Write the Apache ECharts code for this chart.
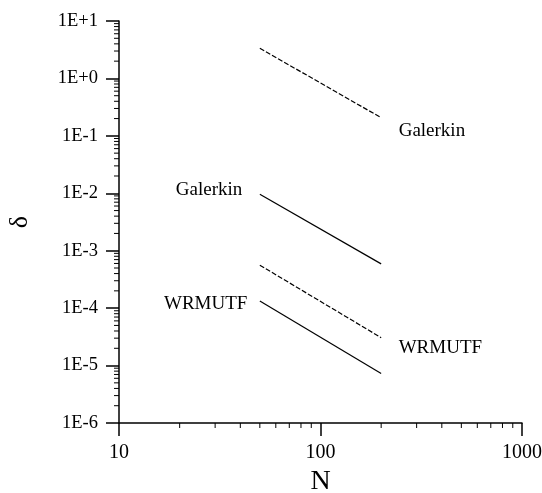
<!DOCTYPE html>
<html>
<head>
<meta charset="utf-8">
<script src="https://cdn.jsdelivr.net/npm/echarts@6/dist/echarts.min.js"></script>
<style>html,body{margin:0;padding:0;background:#fff}#c{width:542px;height:493px}</style>
</head>
<body>
<div id="c"></div>
<script>
// ---- data ----
const N = [50, 200];
const galerkinDashed = [3.35, 0.207];
const galerkinSolid = [0.0096, 0.00059];
const wrmutfDashed = [0.00056, 0.0000306];
const wrmutfSolid = [0.000133, 0.0000073];
const labelTexts = ['Galerkin', 'Galerkin', 'WRMUTF', 'WRMUTF'];
const xTickValues = [10, 100, 1000];
const yTickValues = [1e-6, 1e-5, 1e-4, 1e-3, 1e-2, 1e-1, 1, 10];
const xMinorTicks = [20,30,40,50,60,70,80,90,200,300,400,500,600,700,800,900];
const yMinorTicks = [];
for (let d = -6; d < 1; d++) for (let k = 2; k <= 9; k++) yMinorTicks.push(k * Math.pow(10, d));

const FONT = 'Liberation Serif';
const chart = echarts.init(document.getElementById('c'), null, {renderer: 'canvas'});

function pts(ys) { return N.map((n, i) => [n, ys[i]]); }
function withLabel(data, idx, text, pos, dist, offset) {
  data[idx] = {value: data[idx], label: {show: true, formatter: text, position: pos, distance: dist, offset: offset,
    fontFamily: FONT, fontSize: 19, color: '#000'}};
  return data;
}
const lineStyleSolid = {color: '#000', width: 1.2, type: 'solid'};
const lineStyleDashed = {color: '#000', width: 1.2, type: [5, 2]};

function lineSeries(data, ls) {
  return {type: 'line', data: data, showSymbol: true, symbol: 'circle', symbolSize: 1,
    itemStyle: {color: 'rgba(0,0,0,0)', borderWidth: 0}, lineStyle: ls, silent: true, label: {show: false}};
}

function minorTickSeries(data, dir) {
  return {
    type: 'custom', coordinateSystem: 'cartesian2d', silent: true, clip: false, z: 5,
    data: data,
    renderItem: function (params, api) {
      const p = api.coord([api.value(0), api.value(1)]);
      const shape = dir === 'x' ? {x1: p[0], y1: p[1], x2: p[0], y2: p[1] + 5}
                                : {x1: p[0], y1: p[1], x2: p[0] - 5, y2: p[1]};
      return {type: 'line', shape: shape, style: {stroke: '#000', lineWidth: 1}};
    }
  };
}

const option = {
  backgroundColor: '#fff',
  animation: false,
  grid: {left: 119, top: 21, right: 20, bottom: 70, containLabel: false, outerBoundsMode: 'none'},
  xAxis: {
    type: 'log', min: 10, max: 1000, logBase: 10,
    name: 'N', nameLocation: 'middle', nameGap: 45,
    nameTextStyle: {fontFamily: FONT, fontSize: 28, color: '#000'},
    axisLine: {lineStyle: {color: '#000', width: 1.5}},
    axisTick: {show: true, inside: false, length: 13, lineStyle: {color: '#000', width: 1.5}},
    minorTick: {show: false},
    splitLine: {show: false},
    axisLabel: {fontFamily: FONT, fontSize: 20, color: '#000', margin: 20,
      formatter: v => String(Math.round(v))}
  },
  yAxis: {
    type: 'log', min: 1e-6, max: 10, logBase: 10,
    name: 'δ', nameLocation: 'middle', nameGap: 86, nameRotate: 90,
    nameTextStyle: {fontFamily: FONT, fontSize: 26, color: '#000'},
    axisLine: {lineStyle: {color: '#000', width: 1.5}},
    axisTick: {show: true, inside: false, length: 13, lineStyle: {color: '#000', width: 1.5}},
    splitLine: {show: false},
    axisLabel: {fontFamily: FONT, fontSize: 18.5, color: '#000', margin: 21,
      formatter: function (v) {
        const e = Math.round(Math.log10(v));
        return '1E' + (e >= 0 ? '+' : '-') + Math.abs(e);
      }}
  },
  series: [
    lineSeries(withLabel(pts(galerkinDashed), 1, labelTexts[0], 'right', 17, [0, 13]), lineStyleDashed),
    lineSeries(withLabel(pts(galerkinSolid), 0, labelTexts[1], 'left', 17, [0, -4]), lineStyleSolid),
    lineSeries(withLabel(pts(wrmutfDashed), 1, labelTexts[2], 'right', 17, [0, 10]), lineStyleDashed),
    lineSeries(withLabel(pts(wrmutfSolid), 0, labelTexts[3], 'left', 12, [0, 3]), lineStyleSolid),
    minorTickSeries(xMinorTicks.map(v => [v, yTickValues[0]]), 'x'),
    minorTickSeries(yMinorTicks.map(v => [xTickValues[0], v]), 'y')
  ]
};
chart.setOption(option);
</script>
</body>
</html>
